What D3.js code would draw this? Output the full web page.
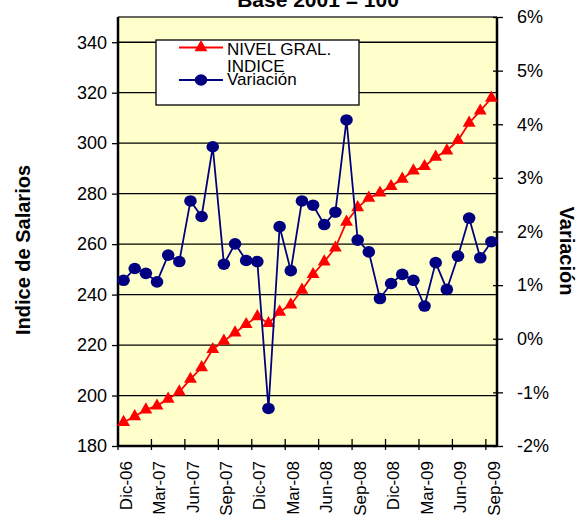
<!DOCTYPE html>
<html>
<head>
<meta charset="utf-8">
<script src="https://cdn.jsdelivr.net/npm/d3@7"></script>
<style>
  html, body { margin: 0; padding: 0; background: #fff; }
  svg { display: block; font-family: Arial, "Liberation Sans", sans-serif; }
</style>
</head>
<body>
<svg id="chart" width="577" height="518"></svg>
<script>
// ---- data ----
const months = ["Dic-06","Ene-07","Feb-07","Mar-07","Abr-07","May-07","Jun-07","Jul-07","Ago-07","Sep-07","Oct-07","Nov-07",
                "Dic-07","Ene-08","Feb-08","Mar-08","Abr-08","May-08","Jun-08","Jul-08","Ago-08","Sep-08","Oct-08","Nov-08",
                "Dic-08","Ene-09","Feb-09","Mar-09","Abr-09","May-09","Jun-09","Jul-09","Ago-09","Sep-09"];
const nivelGral = [189.4,191.7,194.4,195.9,198.6,201.5,206.5,211.1,218.3,221.6,224.9,228.2,
                   231.3,228.6,233.1,236.0,241.8,248.0,253.0,258.5,268.8,274.5,278.3,280.3,
                   282.9,285.8,289.1,290.8,294.5,297.0,301.1,308.0,312.8,317.9];
const variacion = [1.09,1.31,1.22,1.06,1.56,1.44,2.57,2.28,3.58,1.39,1.77,1.46,
                   1.44,-1.30,2.09,1.27,2.57,2.49,2.13,2.36,4.08,1.84,1.62,0.75,
                   1.03,1.20,1.09,0.61,1.42,0.92,1.54,2.25,1.51,1.81];
const leftTicks = [180,200,220,240,260,280,300,320,340];
const rightTicks = [-2,-1,0,1,2,3,4,5,6];
const shownLabels = ["Dic-06","Mar-07","Jun-07","Sep-07","Dic-07","Mar-08","Jun-08","Sep-08","Dic-08","Mar-09","Jun-09","Sep-09"];
const titleText = "Base 2001 = 100";
const legendLabels = ["NIVEL GRAL.", "INDICE", "Variación"];

// ---- layout ----
const L = 118, R = 497, T = 17, B = 446;
const svg = d3.select("#chart");

const x = d3.scaleBand().domain(months).range([L, R]).padding(0);
const yL = d3.scaleLinear().domain([180, 350]).range([B, T]);
const yR = d3.scaleLinear().domain([-2, 6]).range([B, T]);

// plot background
svg.append("rect").attr("x", L).attr("y", T).attr("width", R - L).attr("height", B - T)
  .attr("fill", "#FFFFCC");

// gridlines
svg.append("g").selectAll("line").data(leftTicks.filter(d => d > 180)).join("line")
  .attr("x1", L).attr("x2", R).attr("y1", d => yL(d)).attr("y2", d => yL(d))
  .attr("stroke", "#000").attr("stroke-width", 1.3);

// top border
svg.append("line").attr("x1", L).attr("x2", R).attr("y1", T).attr("y2", T)
  .attr("stroke", "#333").attr("stroke-width", 1.3);

// title (cut off at top, as in the reference)
svg.append("text").attr("x", 318).attr("y", 7).attr("text-anchor", "middle")
  .attr("font-weight", "bold").attr("font-size", 21).text(titleText);

// left axis
const axL = svg.append("g").attr("transform", `translate(${L},0)`)
  .call(d3.axisLeft(yL).tickValues(leftTicks).tickSize(6).tickPadding(5).tickFormat(d3.format("d")));
axL.select(".domain").remove();
axL.selectAll(".tick line").attr("stroke", "#000").attr("stroke-width", 1.3);
axL.selectAll(".tick text").attr("font-size", 18).attr("fill", "#000")
  .attr("font-family", "Arial, 'Liberation Sans', sans-serif");
svg.append("line").attr("x1", L).attr("x2", L).attr("y1", T).attr("y2", B)
  .attr("stroke", "#000").attr("stroke-width", 2.5);

// right axis
const axR = svg.append("g").attr("transform", `translate(${R},0)`)
  .call(d3.axisRight(yR).tickValues(rightTicks).tickSize(6).tickPadding(14).tickFormat(d => d + "%"));
axR.select(".domain").remove();
axR.selectAll(".tick line").attr("x1", -4).attr("stroke", "#000").attr("stroke-width", 1.3);
axR.selectAll(".tick text").attr("font-size", 18).attr("fill", "#000")
  .attr("font-family", "Arial, 'Liberation Sans', sans-serif");
svg.append("line").attr("x1", R).attr("x2", R).attr("y1", T).attr("y2", B)
  .attr("stroke", "#000").attr("stroke-width", 2.5);

// bottom axis
const bw = x.bandwidth();
svg.append("g").selectAll("line").data(months.filter((d, i) => i % 3 === 0)).join("line")
  .attr("x1", d => x(d)).attr("x2", d => x(d)).attr("y1", B - 7).attr("y2", B + 4)
  .attr("stroke", "#000").attr("stroke-width", 1.3);
svg.append("line").attr("x1", L).attr("x2", R).attr("y1", B).attr("y2", B)
  .attr("stroke", "#000").attr("stroke-width", 2.5);
svg.append("g").selectAll("text").data(shownLabels).join("text")
  .attr("transform", d => `translate(${x(d) + bw / 2 + 2},${B + 15}) rotate(-90)`)
  .attr("text-anchor", "end").attr("dy", "0.36em")
  .attr("font-size", 17).text(d => d);

// axis titles
svg.append("text").attr("transform", `translate(30,250) rotate(-90)`)
  .attr("text-anchor", "middle").attr("font-weight", "bold").attr("font-size", 20)
  .text("Indice de Salarios");
svg.append("text").attr("transform", `translate(560,251) rotate(90)`)
  .attr("text-anchor", "middle").attr("font-weight", "bold").attr("font-size", 20)
  .text("Variación");

const cx = d => x(d) + bw / 2;

// red series
const redLine = d3.line().x((d, i) => cx(months[i])).y(d => yL(d));
svg.append("path").datum(nivelGral).attr("d", redLine)
  .attr("fill", "none").attr("stroke", "#FF0000").attr("stroke-width", 1.8);
const tri = d3.symbol().type(d3.symbolTriangle).size(72);
svg.append("g").selectAll("path").data(nivelGral).join("path")
  .attr("transform", (d, i) => `translate(${cx(months[i])},${yL(d)})`)
  .attr("d", tri).attr("fill", "#FF0000");

// blue series
const blueLine = d3.line().x((d, i) => cx(months[i])).y(d => yR(d));
svg.append("path").datum(variacion).attr("d", blueLine)
  .attr("fill", "none").attr("stroke", "#000080").attr("stroke-width", 1.8);
svg.append("g").selectAll("ellipse").data(variacion).join("ellipse")
  .attr("cx", (d, i) => cx(months[i])).attr("cy", d => yR(d))
  .attr("rx", 6.3).attr("ry", 5.8).attr("fill", "#000080");

// legend
const lg = svg.append("g");
lg.append("rect").attr("x", 156).attr("y", 40).attr("width", 203).attr("height", 65)
  .attr("fill", "#fff").attr("stroke", "#000").attr("stroke-width", 1.3);
lg.append("line").attr("x1", 179).attr("x2", 223).attr("y1", 47.5).attr("y2", 47.5)
  .attr("stroke", "#FF0000").attr("stroke-width", 1.8);
lg.append("path").attr("transform", "translate(201,47.5)").attr("d", tri).attr("fill", "#FF0000");
lg.append("line").attr("x1", 179).attr("x2", 223).attr("y1", 80).attr("y2", 80)
  .attr("stroke", "#000080").attr("stroke-width", 1.8);
lg.append("ellipse").attr("cx", 201).attr("cy", 80).attr("rx", 6.3).attr("ry", 5.8).attr("fill", "#000080");
lg.append("text").attr("x", 227).attr("y", 55).attr("font-size", 17).text(legendLabels[0]);
lg.append("text").attr("x", 227).attr("y", 72).attr("font-size", 17).text(legendLabels[1]);
lg.append("text").attr("x", 227).attr("y", 85).attr("font-size", 17).text(legendLabels[2]);
</script>
</body>
</html>
